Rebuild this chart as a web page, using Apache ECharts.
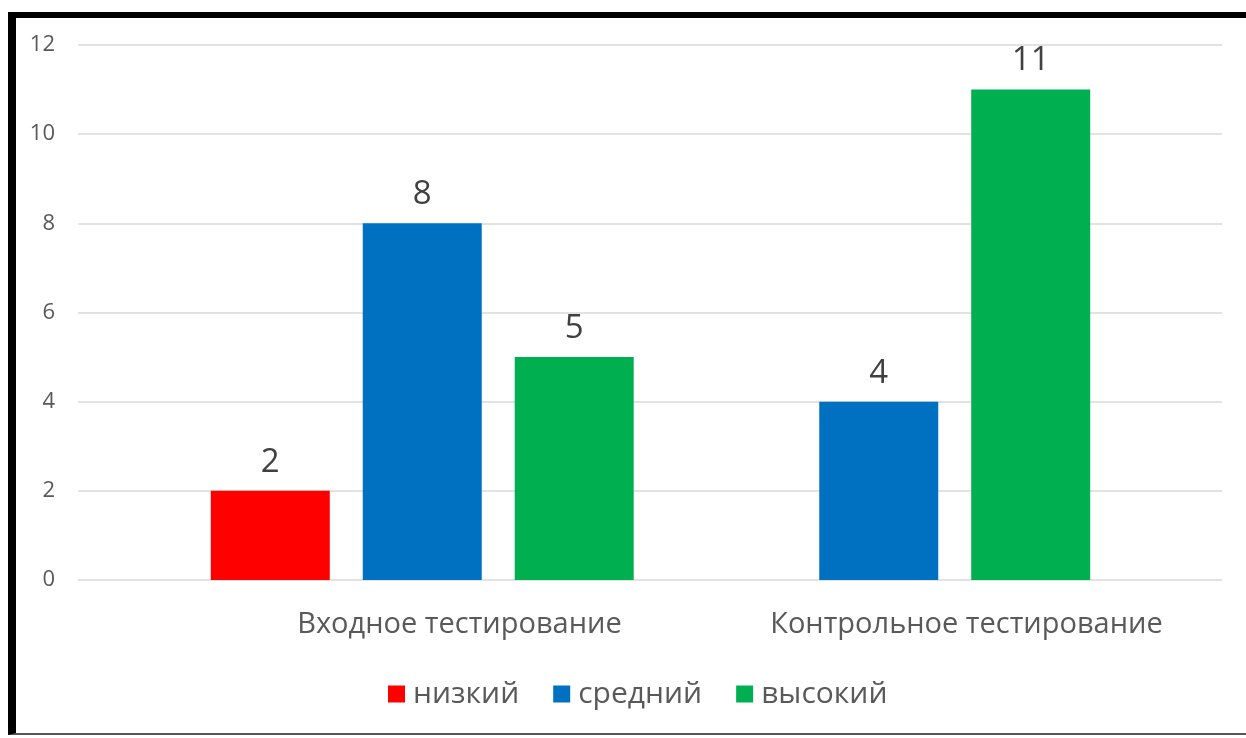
<!DOCTYPE html>
<html>
<head>
<meta charset="utf-8">
<script src="https://cdn.jsdelivr.net/npm/echarts@6/dist/echarts.min.js"></script>
<style>
  html, body { margin: 0; padding: 0; background: #fff; }
  #chart { position: absolute; left: 0; top: 0; width: 1246px; height: 738px; }
  #frame { position: absolute; left: 8px; top: 12px; width: 1238px; height: 723px;
           border-left: 8px solid #000; border-top: 6px solid #000; border-bottom: 2px solid #555;
           box-sizing: border-box; pointer-events: none; }
</style>
</head>
<body>
<div id="chart"></div>
<div id="frame"></div>
<script>
const categories = ['Входное тестирование', 'Контрольное тестирование'];
const seriesNames = ['низкий', 'средний', 'высокий'];
const lowValues = [2, null];
const midValues = [8, 4];
const highValues = [5, 11];
const yTicks = { min: 0, max: 12, interval: 2 };

const colors = ['#FF0000', '#0070C0', '#00B050'];
const textColor = '#595959';
const fontFamily = '"Open Sans", "Noto Sans", sans-serif';

const chart = echarts.init(document.getElementById('chart'));
const barSeries = [lowValues, midValues, highValues].map((vals, i) => ({
  name: seriesNames[i],
  type: 'bar',
  xAxisIndex: 1,
  yAxisIndex: 1,
  data: vals,
  barWidth: 119,
  barGap: '27.7%',
  itemStyle: { color: colors[i] },
  label: {
    show: true, position: 'top', distance: 12,
    fontSize: 33, color: '#404040', fontFamily: fontFamily
  }
}));

chart.setOption({
  animation: false,
  color: colors,
  textStyle: { fontFamily: fontFamily },
  grid: [
    { left: 78, right: 24, top: 45, bottom: 158 },
    { left: 194, right: 139, top: 45, bottom: 158 },
    { left: 206, right: 26, top: 45, bottom: 158 }
  ],
  xAxis: [
    { gridIndex: 0, type: 'category', data: categories, show: false },
    { gridIndex: 1, type: 'category', data: categories, show: false },
    { gridIndex: 2, type: 'category', data: categories,
      axisLine: { show: false }, axisTick: { show: false },
      axisLabel: { interval: 0, hideOverlap: false, fontSize: 29, color: textColor, margin: 30, fontFamily: fontFamily } }
  ],
  yAxis: [
    { gridIndex: 0, type: 'value', min: yTicks.min, max: yTicks.max, interval: yTicks.interval,
      axisLine: { show: false }, axisTick: { show: false },
      axisLabel: { fontSize: 22, color: textColor, margin: 23, fontFamily: fontFamily } ,
      splitLine: { lineStyle: { color: '#D9D9D9', width: 1.5 } } },
    { gridIndex: 1, type: 'value', min: yTicks.min, max: yTicks.max, interval: yTicks.interval, show: false, splitLine: { show: false } },
    { gridIndex: 2, type: 'value', min: yTicks.min, max: yTicks.max, interval: yTicks.interval, show: false, splitLine: { show: false } }
  ],
  legend: {
    data: seriesNames,
    left: 383, top: 674,
    icon: 'rect', itemWidth: 17, itemHeight: 17, itemGap: 34,
    textStyle: { fontSize: 30, color: textColor, fontFamily: fontFamily, padding: [0, 0, 0, 3] }
  },
  series: barSeries
});
</script>
</body>
</html>
